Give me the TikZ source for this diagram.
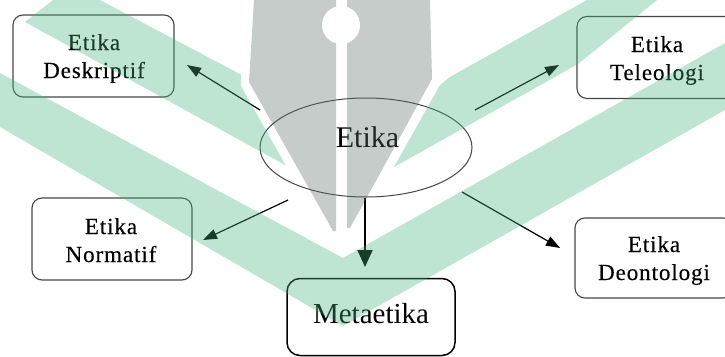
\documentclass[tikz,border=0pt]{standalone}
\usepackage{fontspec}
\setmainfont{Liberation Serif}
\newfontfamily\boxfont[LetterSpace=4,FakeBold=0.3]{Liberation Serif}
\usetikzlibrary{arrows.meta,shapes.geometric}
\definecolor{wmgreen}{RGB}{69,178,126}
\definecolor{wmgray}{RGB}{89,109,104}
\definecolor{boxline}{RGB}{70,70,70}
\begin{document}
\begin{tikzpicture}[x=1pt,y=-1pt,
  box/.style={draw=boxline, line width=1.1pt, rounded corners=10pt, inner sep=0pt},
  metabox/.style={draw=black, line width=1.5pt, rounded corners=13pt, inner sep=0pt},
  boxtxt/.style={font=\boxfont\fontsize{23}{28}\selectfont, align=center, inner sep=0pt, anchor=base},
  bigtxt/.style={inner sep=0pt, anchor=base},
  arr/.style={line width=1.2pt, -{Triangle[length=14pt,width=10pt]}},
  bigarr/.style={line width=1.9pt, -{Triangle[length=17pt,width=15pt]}},
  wm/.style={fill=wmgreen, fill opacity=0.35},
  nib/.style={fill=wmgray, fill opacity=0.35}]
\useasboundingbox (0,0) rectangle (725,356);
% boxes
\node[box, minimum width=161pt, minimum height=82pt] (desk) at (93.5,56) {};
\node[box, minimum width=160pt, minimum height=82pt] (tele) at (657,57.5) {};
\node[box, minimum width=160pt, minimum height=82pt] (norm) at (112,239) {};
\node[box, minimum width=158pt, minimum height=80pt] (deon) at (654,258) {};
\node[metabox, minimum width=168pt, minimum height=77pt] (meta) at (371,317) {};
\node[draw=boxline, line width=1pt, ellipse, minimum width=212pt, minimum height=99pt, inner sep=0pt] (ell) at (366,147.5) {};
% texts (anchor base = baseline of the last line)
\node[boxtxt] (deskT) at (94,78) {Etika\\Deskriptif};
\node[boxtxt] (teleT) at (657,80) {Etika\\Teleologi};
\node[boxtxt] (normT) at (111,262) {Etika\\Normatif};
\node[boxtxt] (deonT) at (654,280) {Etika\\Deontologi};
\node[bigtxt, font=\fontsize{30}{36}\selectfont] (ellT) at (367.5,147) {Etika};
\node[bigtxt, font=\fontsize{29}{35}\selectfont] (metaT) at (371,323) {Metaetika};
% connector ends
\coordinate (sDesk) at (260,110); \coordinate (tDesk) at (187,65);
\coordinate (sTele) at (475,110); \coordinate (tTele) at (559,65);
\coordinate (sNorm) at (288,200); \coordinate (tNorm) at (203,240);
\coordinate (sDeon) at (462,192); \coordinate (tDeon) at (560,248);
\coordinate (sMeta) at (365,198); \coordinate (tMeta) at (365,267);
\draw[arr] (sDesk) -- (tDesk);
\draw[arr] (sTele) -- (tTele);
\draw[arr] (sNorm) -- (tNorm);
\draw[arr] (sDeon) -- (tDeon);
\draw[bigarr] (sMeta) -- (tMeta);
% watermark overlay
\fill[wm] (25,22) -- (53,0) -- (100,0) -- (241,74.7) -- (241.2,86.4) -- (285.7,165.4) -- cycle;
\fill[wm] (394,167) -- (440,85) -- (450,77) -- (587,0) -- (657,0) -- (578,64) -- cycle;
\fill[wm] (0,73) -- (343,258) -- (725,43) -- (725,110) -- (343,326) -- (0,127) -- cycle;
\fill[nib] (254,0) -- (249,82) -- (333,231) -- (336,231) -- (336,0) -- cycle;
\fill[nib] (347,0) -- (347,228) -- (350,228) -- (432,79) -- (430,0) -- cycle;
\fill[white] (341,25) circle[radius=19];
\end{tikzpicture}
\end{document}
